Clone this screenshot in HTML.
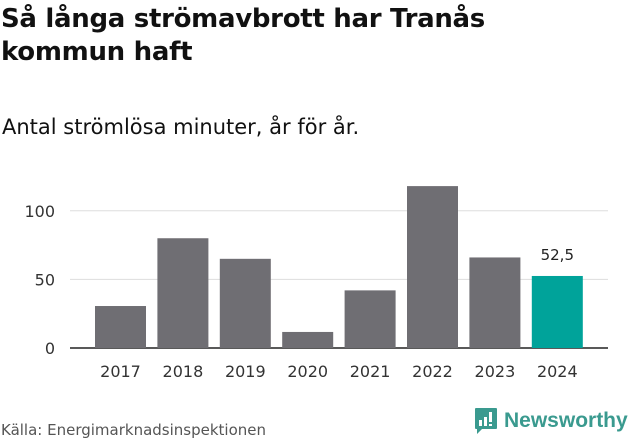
<!DOCTYPE html>
<html><head><meta charset="utf-8"><style>
body{margin:0;width:631px;height:439px;background:#fff;font-family:"DejaVu Sans","Liberation Sans",sans-serif;color:#111;overflow:hidden;position:relative}
h1{position:absolute;left:1px;top:3px;margin:0;font-size:26px;line-height:33px;font-weight:bold;letter-spacing:-0.3px}
.sub{position:absolute;left:2px;top:115px;font-size:21px}
.src{position:absolute;left:1px;top:421px;font-size:15px;color:#555}
.logo{position:absolute;left:474px;top:407px;display:flex;align-items:center}
.logo span{color:#3a9a8f;font-size:21px;font-weight:bold;margin-left:6px;font-family:"Liberation Sans",sans-serif}
</style></head><body>
<h1>Så långa strömavbrott har Tranås<br>kommun haft</h1>
<div class="sub">Antal strömlösa minuter, år för år.</div>
<svg id="c" width="631" height="439" style="position:absolute;left:0;top:0"></svg>
<div class="src">Källa: Energimarknadsinspektionen</div>
<div class="logo"><svg width="24" height="28" viewBox="0 0 24 28"><path d="M2 1h20a1 1 0 0 1 1 1v19a1 1 0 0 1-1 1H8l-5 5v-5H2a1 1 0 0 1-1-1V2a1 1 0 0 1 1-1z" fill="#3a9a8f"/><rect x="5" y="13" width="3" height="6" fill="#fff"/><rect x="10" y="10" width="3" height="9" fill="#fff"/><rect x="15" y="5" width="3" height="10" fill="#fff"/><rect x="15" y="17" width="3" height="2" fill="#fff"/></svg><span>Newsworthy</span></div>
<script>
const categories=["2017","2018","2019","2020","2021","2022","2023","2024"];
const values=[30.6,80,65,11.7,42,118,66,52.5];
const ticks=[0,50,100];
const ns="http://www.w3.org/2000/svg",svg=document.getElementById('c');
const y0=348,ppu=1.372;
const y=v=>y0-v*ppu;
const x=i=>95+i*62.4;
function mk(t,a,txt){const e=document.createElementNS(ns,t);for(const k in a)e.setAttribute(k,a[k]);if(txt!=null)e.textContent=txt;svg.appendChild(e);return e;}
ticks.forEach(t=>{
 const g=mk('line',{x1:70,x2:608,y1:y(t),y2:y(t),stroke:t?'#ddd':'#222','stroke-width':t?1:1.5});
 
 
 const l=mk('text',{x:55,y:y(t)+6,'text-anchor':'end','font-size':16,fill:'#333','font-family':'DejaVu Sans,sans-serif'},t);
 
 
});
categories.forEach((c,i)=>{
 const last=i===categories.length-1;
 const b=mk('rect',{x:x(i),y:y(values[i]),width:51,height:values[i]*ppu,fill:last?'#00a39a':'#6f6e73'});
 
 
 const l=mk('text',{x:x(i)+25.5,y:377,'text-anchor':'middle','font-size':16,fill:'#333','font-family':'DejaVu Sans,sans-serif'},c);
 
 
 if(last){
  const v=mk('text',{x:x(i)+25.5,y:y(values[i])-16,'text-anchor':'middle','font-size':15,fill:'#222','font-family':'DejaVu Sans,sans-serif'},String(values[i]).replace('.',','));
  
  
 }
});
</script>
</body></html>
